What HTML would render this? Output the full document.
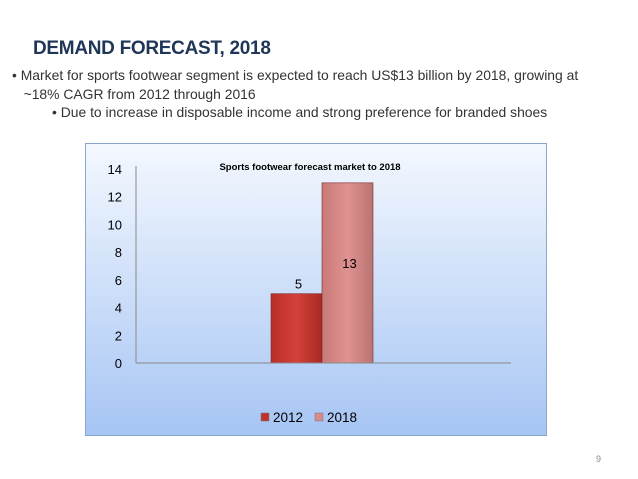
<!DOCTYPE html>
<html><head><meta charset="utf-8"><style>
body{margin:0;width:638px;height:479px;background:#fff;position:relative;overflow:hidden;font-family:"Liberation Sans",sans-serif}
.t{position:absolute;white-space:nowrap}
</style></head><body>
<div class="t" style="left:33px;top:38px;font-size:19px;font-weight:bold;color:#1f3657;letter-spacing:-0.3px">DEMAND FORECAST, 2018</div>
<div class="t" style="left:12px;top:66px;font-size:13.9px;color:#333;line-height:19px">• Market for sports footwear segment is expected to reach US$13 billion by 2018, growing at<br>&nbsp;&nbsp;&nbsp;~18% CAGR from 2012 through 2016</div>
<div class="t" style="left:52px;top:104px;font-size:13.9px;color:#333">• Due to increase in disposable income and strong preference for branded shoes</div>
<svg width="638" height="479" style="position:absolute;left:0;top:0" font-family="Liberation Sans, sans-serif">
<defs>
<linearGradient id="bg" x1="0" y1="0" x2="0" y2="1"><stop offset="0" stop-color="#f4f8fe"/><stop offset="1" stop-color="#a6c5f4"/></linearGradient>
<linearGradient id="r1" x1="0" y1="0" x2="1" y2="0"><stop offset="0" stop-color="#b82e28"/><stop offset="0.5" stop-color="#d5413a"/><stop offset="1" stop-color="#a52a24"/></linearGradient>
<linearGradient id="r2" x1="0" y1="0" x2="1" y2="0"><stop offset="0" stop-color="#c87a78"/><stop offset="0.5" stop-color="#e09290"/><stop offset="1" stop-color="#b97472"/></linearGradient>
</defs>
<rect x="85.5" y="143.5" width="461" height="292" fill="url(#bg)" stroke="#8aa6c8"/>
<g id="plot"></g>
<text x="310" y="170" font-size="9.5" font-weight="bold" text-anchor="middle" fill="#000">Sports footwear forecast market to 2018</text>
<text x="596" y="462" font-size="9" fill="#888">9</text>
</svg>
<script>
const categories=["2012","2018"];
const values=[5,13];
const ticks=[0,2,4,6,8,10,12,14];
const colors=["url(#r1)","url(#r2)"];
const legendColors=["#c0332c","#d88a88"];
const NS="http://www.w3.org/2000/svg";
const g=document.getElementById("plot");
const y0=363,yTop=169,yMax=14,x0=136,x1=511;
const y=v=>y0-(v/yMax)*(y0-yTop);
function mk(t,a){const e=document.createElementNS(NS,t);for(const k in a)e.setAttribute(k,a[k]);g.appendChild(e);return e;}
ticks.forEach(v=>{const e=mk("text",{x:122,y:y(v)+5,"font-size":13,"text-anchor":"end",fill:"#000"});e.textContent=v;

});
const barW=51,groupStart=271;
values.forEach((v,i)=>{const bx=groupStart+i*barW;
const r=mk("rect",{x:bx,y:y(v),width:barW,height:y0-y(v),fill:colors[i],stroke:"#7a2a28","stroke-width":0.6});


const ly=i==0?y(v)-5:(y(v)+y0)/2-5;
const lbl=mk("text",{x:bx+barW/2+2,y:ly,"font-size":13,"text-anchor":"middle",fill:"#000"});
lbl.textContent=v;


});
const ax=mk("line",{x1:x0,y1:yTop-3,x2:x0,y2:y0,stroke:"#888"});


const bx2=mk("line",{x1:x0,y1:y0,x2:x1,y2:y0,stroke:"#888"});


categories.forEach((c,i)=>{const lx=261+i*54;
const s=mk("rect",{x:lx,y:413,width:8,height:8,fill:legendColors[i],stroke:"#777","stroke-width":0.5});


const t=mk("text",{x:lx+12,y:422,"font-size":13.5,fill:"#000"});t.textContent=c;

});
</script>
</body></html>
